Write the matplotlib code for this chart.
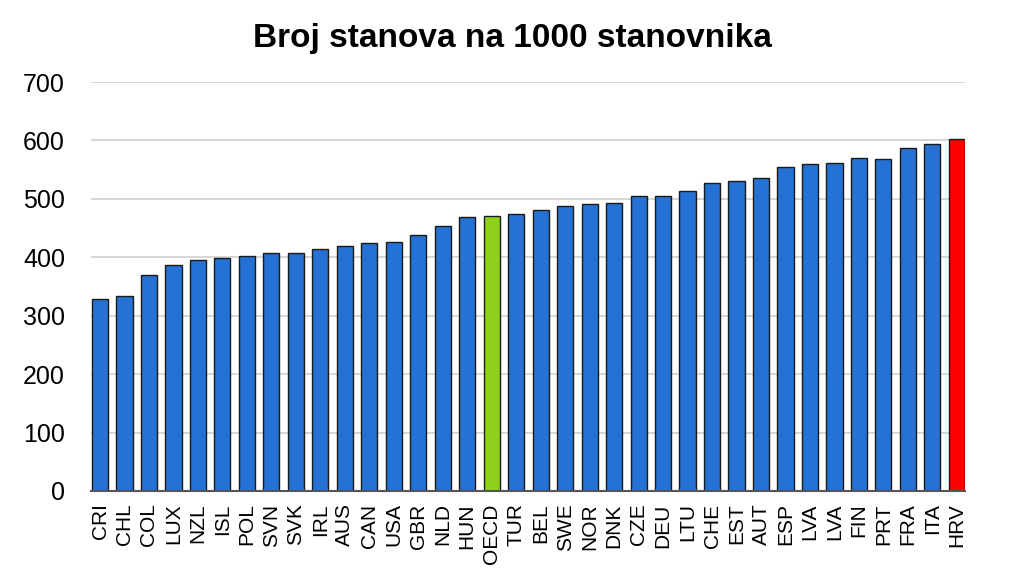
import matplotlib
matplotlib.use("Agg")
import matplotlib.pyplot as plt
import numpy as np

plt.rcParams['font.family'] = ['Liberation Sans Narrow', 'Liberation Sans', 'DejaVu Sans']

countries = ["CRI", "CHL", "COL", "LUX", "NZL", "ISL", "POL", "SVN", "SVK", "IRL",
             "AUS", "CAN", "USA", "GBR", "NLD", "HUN", "OECD", "TUR", "BEL", "SWE",
             "NOR", "DNK", "CZE", "DEU", "LTU", "CHE", "EST", "AUT", "ESP", "LVA",
             "LVA", "FIN", "PRT", "FRA", "ITA", "HRV"]
dwellings = [329, 334, 369, 386, 395, 399, 402, 408, 408, 415,
             419, 425, 426, 438, 453, 469, 470, 474, 481, 488,
             491, 493, 505, 505, 514, 527, 530, 535, 554, 559,
             561, 570, 569, 587, 594, 603]
yticks = [0, 100, 200, 300, 400, 500, 600, 700]

colors = []
for c in countries:
    if c == "OECD":
        colors.append("#8ed11a")
    elif c == "HRV":
        colors.append("#ff0000")
    else:
        colors.append("#2671d6")

fig = plt.figure(figsize=(10.24, 5.76), dpi=100)
ax = fig.add_axes([0.0893, 0.1476, 0.8535, 0.710])

x = np.arange(len(countries))
ax.bar(x, dwellings, width=0.66, color=colors, edgecolor="#1a1a1a", linewidth=1.0, zorder=3)

ax.set_xlim(-0.35, len(countries) - 0.65)
ax.set_ylim(0, 700)
ax.set_yticks(yticks)
ax.set_yticklabels([str(v) for v in yticks], fontsize=18)
ax.set_xticks(x)
ax.set_xticklabels(countries, rotation=90, fontsize=15)
ax.tick_params(axis="y", length=0, pad=19)
ax.tick_params(axis="x", length=0, pad=9)
ax.yaxis.grid(True, color="#d0d0d0", linewidth=1.2, zorder=0)

for side in ["left", "right", "top"]:
    ax.spines[side].set_visible(False)
ax.spines["bottom"].set_color("#555555")
ax.spines["bottom"].set_linewidth(1.5)
ax.spines["bottom"].set_zorder(4)

fig.text(0.5, 0.934, "Broj stanova na 1000 stanovnika", ha="center", va="center",
         fontsize=24, fontweight="bold")

fig.savefig("out.png", dpi=100)
